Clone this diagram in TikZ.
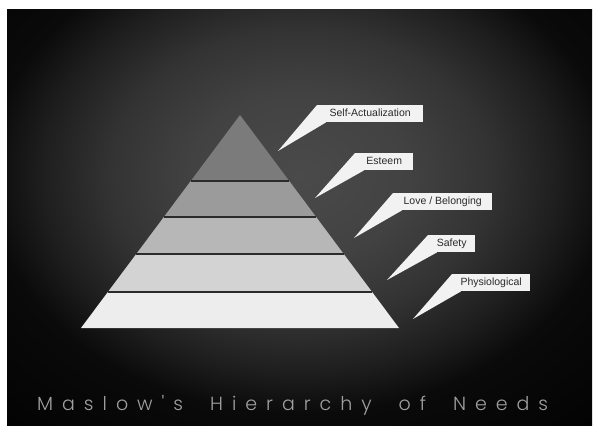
\documentclass[tikz,border=0pt]{standalone}
\usepackage{fontspec}
\setmainfont{Liberation Sans}
\newfontfamily\titlefont{Poppins}[UprightFont={* Light}]
\usetikzlibrary{calc}
\definecolor{bg0}{HTML}{4A4A4A}
\definecolor{bg1}{HTML}{424242}
\definecolor{bg2}{HTML}{333333}
\definecolor{bg3}{HTML}{1E1E1E}
\definecolor{bg4}{HTML}{0A0A0A}
\definecolor{bandA}{HTML}{7B7B7B}
\definecolor{bandB}{HTML}{9B9B9B}
\definecolor{bandC}{HTML}{B7B7B7}
\definecolor{bandD}{HTML}{D3D3D3}
\definecolor{bandE}{HTML}{EDEDED}
\definecolor{gapcol}{HTML}{2B2B2B}
\definecolor{callfill}{HTML}{F2F2F2}
\definecolor{calltext}{HTML}{2A2A2A}
\definecolor{titlecol}{HTML}{A0A0A0}
\pgfdeclareradialshading{chalkbg}{\pgfpoint{0bp}{0bp}}{color(0bp)=(bg0); color(8bp)=(bg1); color(14bp)=(bg2); color(19bp)=(bg3); color(23bp)=(bg4); color(36bp)=(black)}
\begin{document}
\begin{tikzpicture}[x=1pt,y=-1pt,
  callout/.style={fill=callfill, text=calltext, font=\fontsize{10.5}{12}\selectfont,
    inner sep=0pt, minimum height=17pt, text height=7.8pt, text depth=2pt, anchor=north west},
  tail/.style={fill=callfill},
  sepline/.style={draw=gapcol, line width=2.4pt}]
\useasboundingbox (0,0) rectangle (600,436);
\fill[white] (0,0) rectangle (600,436);
\begin{scope}
  \clip (7,10) rectangle (592,425);
  \shade[shading=chalkbg] (-40,-85) rectangle (640,435);
\end{scope}
% pyramid
\coordinate (A) at (240,115);
\coordinate (BL) at (81,328);
\coordinate (BR) at (399,328);
\coordinate (L1) at ($(A)!0.3099!(BL)$); \coordinate (R1) at ($(A)!0.3099!(BR)$);
\coordinate (L2) at ($(A)!0.4789!(BL)$); \coordinate (R2) at ($(A)!0.4789!(BR)$);
\coordinate (L3) at ($(A)!0.6526!(BL)$); \coordinate (R3) at ($(A)!0.6526!(BR)$);
\coordinate (L4) at ($(A)!0.8310!(BL)$); \coordinate (R4) at ($(A)!0.8310!(BR)$);
\fill[bandA] (A) -- (R1) -- (L1) -- cycle;
\fill[bandB] (L1) -- (R1) -- (R2) -- (L2) -- cycle;
\fill[bandC] (L2) -- (R2) -- (R3) -- (L3) -- cycle;
\fill[bandD] (L3) -- (R3) -- (R4) -- (L4) -- cycle;
\fill[bandE] (L4) -- (R4) -- (BR) -- (BL) -- cycle;
\draw[sepline] (L1) -- (R1);
\draw[sepline] (L2) -- (R2);
\draw[sepline] (L3) -- (R3);
\draw[sepline] (L4) -- (R4);
% callouts
\node[callout, minimum width=106pt] (sa) at (317,105) {Self-Actualization};
\node[callout, minimum width=58pt] (es) at (355,153) {Esteem};
\node[callout, minimum width=99pt] (lb) at (393,193) {Love / Belonging};
\node[callout, minimum width=47pt] (sf) at (428,235) {Safety};
\node[callout, minimum width=78pt] (ph) at (452,274) {Physiological};
\coordinate (tsa) at (278,151);
\coordinate (tes) at (315,198);
\coordinate (tlb) at (354,238);
\coordinate (tsf) at (387,280);
\coordinate (tph) at (413,319);
\fill[tail] (sa.north west) -- (tsa) -- ($(sa.south west)+(9,0)$) -- cycle;
\fill[tail] (es.north west) -- (tes) -- ($(es.south west)+(9,0)$) -- cycle;
\fill[tail] (lb.north west) -- (tlb) -- ($(lb.south west)+(9,0)$) -- cycle;
\fill[tail] (sf.north west) -- (tsf) -- ($(sf.south west)+(9,0)$) -- cycle;
\fill[tail] (ph.north west) -- (tph) -- ($(ph.south west)+(9,0)$) -- cycle;
% title
\node[anchor=base west, inner sep=0pt, text=titlecol, font=\titlefont\fontsize{19}{22}\selectfont] (title) at (37,410)
  {\makebox[511pt][s]{M\hfill a\hfill s\hfill l\hfill o\hfill w\hfill '\hfill s\hfill\hfill\hfill H\hfill i\hfill e\hfill r\hfill a\hfill r\hfill c\hfill h\hfill y\hfill\hfill\hfill o\hfill f\hfill\hfill\hfill N\hfill e\hfill e\hfill d\hfill s}};
\end{tikzpicture}
\end{document}
